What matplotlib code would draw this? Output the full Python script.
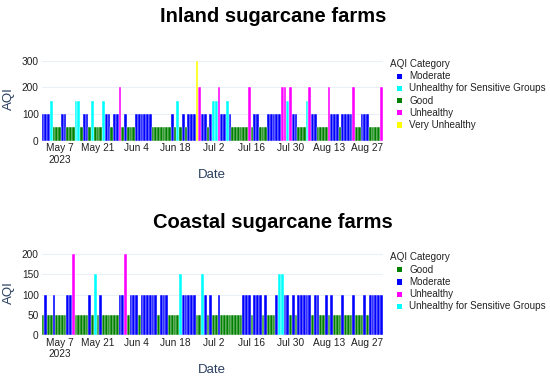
import matplotlib
matplotlib.use("Agg")
import matplotlib.pyplot as plt
import matplotlib.dates as mdates
from matplotlib.patches import Rectangle
import pandas as pd

plt.rcParams['font.family'] = ['Liberation Sans', 'DejaVu Sans']

# one bar per day
dates = pd.date_range("2023-05-01", "2023-09-01", freq="D")

inland_aqi = [
    100, 100, 100, 150, 50, 50, 50, 100, 100, 50, 50, 50, 150, 150, 50, 100,
    100, 50, 150, 50, 50, 50, 150, 100, 100, 50, 100, 100, 200, 50, 100, 50,
    50, 50, 100, 100, 100, 100, 100, 100, 50, 50, 50, 50, 50, 50, 50, 100,
    50, 150, 50, 100, 50, 100, 100, 100, 300, 200, 100, 100, 50, 100, 150, 150,
    200, 100, 100, 150, 100, 50, 50, 50, 50, 50, 50, 200, 50, 100, 100, 50,
    50, 50, 100, 100, 100, 100, 100, 200, 200, 150, 200, 100, 100, 50, 50, 50,
    150, 200, 100, 100, 50, 50, 50, 50, 200, 100, 100, 100, 50, 100, 100, 100,
    100, 200, 50, 50, 100, 100, 100, 50, 50, 50, 50, 200,
]

coastal_aqi = [
    50, 100, 50, 50, 100, 50, 50, 50, 50, 100, 100, 200, 50, 50, 50, 50,
    50, 100, 50, 150, 50, 100, 50, 50, 50, 50, 50, 50, 100, 100, 200, 50,
    100, 100, 100, 50, 100, 100, 100, 100, 100, 100, 50, 100, 100, 100, 50, 50,
    50, 50, 150, 100, 100, 100, 100, 100, 50, 50, 150, 100, 50, 100, 50, 50,
    100, 50, 50, 50, 50, 50, 50, 50, 50, 100, 100, 100, 50, 100, 100, 100,
    50, 100, 50, 50, 50, 100, 150, 150, 100, 100, 50, 100, 50, 100, 100, 100,
    100, 100, 50, 100, 100, 50, 50, 100, 50, 100, 50, 50, 50, 100, 50, 50,
    50, 100, 50, 50, 50, 100, 50, 100, 100, 100, 100, 100,
]

category_of = {50: "Good", 100: "Moderate", 150: "Unhealthy for Sensitive Groups",
               200: "Unhealthy", 300: "Very Unhealthy"}
cat_colors = {"Good": "#008000", "Moderate": "#0000ff",
              "Unhealthy for Sensitive Groups": "#00ffff",
              "Unhealthy": "#ff00ff", "Very Unhealthy": "#ffff00"}

inland_order = ["Moderate", "Unhealthy for Sensitive Groups", "Good", "Unhealthy", "Very Unhealthy"]
coastal_order = ["Good", "Moderate", "Unhealthy", "Unhealthy for Sensitive Groups"]

tick_dates = pd.to_datetime(["2023-05-07", "2023-05-21", "2023-06-04", "2023-06-18",
                             "2023-07-02", "2023-07-16", "2023-07-30", "2023-08-13",
                             "2023-08-27"])
tick_labels = ["May 7\n2023", "May 21", "Jun 4", "Jun 18", "Jul 2", "Jul 16",
               "Jul 30", "Aug 13", "Aug 27"]

navy = "#2a3f5f"
W, H = 550, 377

fig = plt.figure(figsize=(W / 100, H / 100), dpi=100)


def draw(rect, aqi, order, ymax, yticks, title, title_y, legend_y):
    ax = fig.add_axes(rect)
    x = mdates.date2num(dates)
    cats = [category_of[v] for v in aqi]
    for c in order:
        xs = [xi for xi, ci in zip(x, cats) if ci == c]
        ys = [v for v, ci in zip(aqi, cats) if ci == c]
        ax.bar(xs, ys, width=1.0, color=cat_colors[c], edgecolor="white",
               linewidth=0.3, zorder=2)
    ax.set_xlim(x[0] - 0.5, x[-1] + 0.5)
    ax.set_ylim(0, ymax)
    ax.set_yticks(yticks)
    ax.set_xticks(mdates.date2num(tick_dates))
    ax.set_xticklabels(tick_labels)
    ax.grid(axis="y", color="#ebf0f8", linewidth=0.8, zorder=0)
    ax.tick_params(length=0, labelsize=7.3, colors="#222222", pad=2)
    for s in ax.spines.values():
        s.set_visible(False)
    ax.set_ylabel("AQI", color=navy, fontsize=9.5, labelpad=5)
    ax.set_xlabel("Date", color=navy, fontsize=9.5, labelpad=3)
    fig.text(0.496, 1 - title_y / H, title, ha="center", va="center",
             fontsize=14.5, fontweight="bold", color="black")

    # legend, drawn by hand so the swatches sit indented under the title
    fig.text(390 / W, 1 - legend_y / H, "AQI Category", ha="left", va="center",
             fontsize=7.1, color="#222222")
    for k, c in enumerate(order):
        yc = legend_y + 12.2 * (k + 1)
        fig.patches.append(Rectangle((396.5 / W, 1 - (yc + 2.6) / H), 5.2 / W, 5.2 / H,
                                     transform=fig.transFigure, facecolor=cat_colors[c],
                                     edgecolor="none"))
        fig.text(409 / W, 1 - yc / H, c, ha="left", va="center",
                 fontsize=7.1, color="#222222")
    return ax


draw([41.5 / W, 1 - 140.7 / H, 341 / W, 84.2 / H], inland_aqi, inland_order,
     315.8, [0, 100, 200, 300], "Inland sugarcane farms", 17, 64)
draw([41.5 / W, 1 - 335 / H, 341 / W, 85.2 / H], coastal_aqi, coastal_order,
     210.5, [0, 50, 100, 150, 200], "Coastal sugarcane farms", 222, 257.5)

fig.savefig("out.png", dpi=100)
